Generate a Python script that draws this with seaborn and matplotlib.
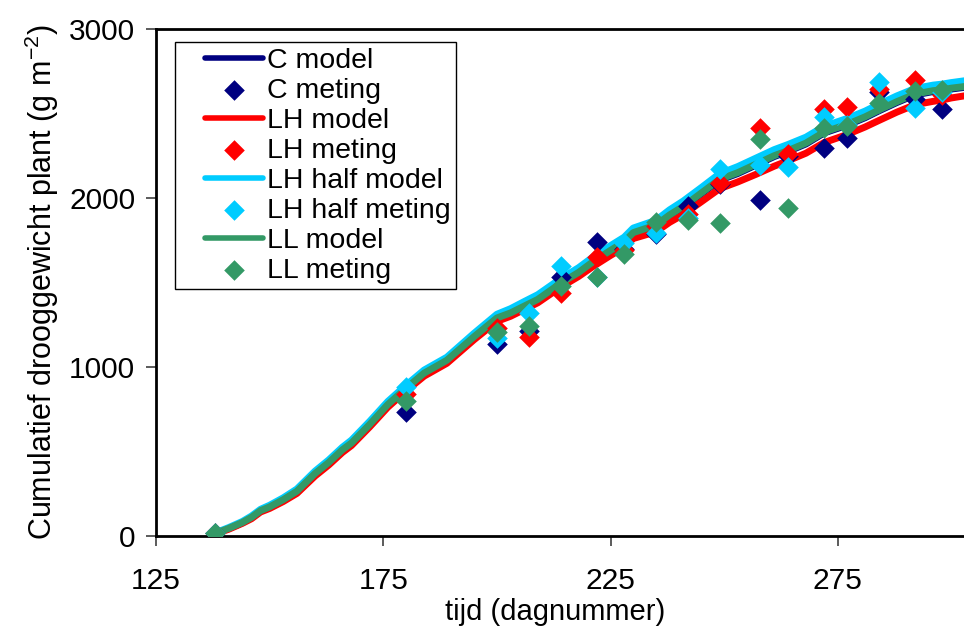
import matplotlib
matplotlib.use("Agg")
import matplotlib.pyplot as plt
from matplotlib.lines import Line2D
from matplotlib.collections import PathCollection
from matplotlib.legend_handler import HandlerLine2D, HandlerPathCollection
import seaborn as sns
import pandas as pd

sns.set_theme(style="white")
plt.rcParams["font.family"] = ["Liberation Sans", "DejaVu Sans"]
plt.rcParams["mathtext.fontset"] = "custom"
plt.rcParams["mathtext.rm"] = "Liberation Sans"
plt.rcParams["text.color"] = "black"
plt.rcParams["axes.labelcolor"] = "black"
plt.rcParams["xtick.color"] = "black"
plt.rcParams["ytick.color"] = "black"

# Simulated cumulative dry weight (g m-2) per treatment
model_days = [138, 141, 144, 146, 148, 150, 153, 156, 160, 163, 166, 168, 172, 176,
              180, 184, 189, 195, 200, 203, 206, 209, 214, 218, 221, 225, 228, 230,
              235, 238, 241, 245, 249, 253, 257, 261, 264, 268, 272, 277, 281, 284,
              288, 292, 296, 298, 300, 303]

c_model = [15, 44, 78, 108, 148, 170, 213, 263, 367, 432, 507, 547, 657, 775,
           870, 960, 1036, 1176, 1286, 1316, 1356, 1396, 1491, 1556, 1616, 1686, 1736, 1790,
           1836, 1895, 1945, 2025, 2105, 2145, 2195, 2245, 2275, 2320, 2385, 2430, 2475, 2515,
           2565, 2610, 2630, 2635, 2645, 2655]

lh_model = [12, 40, 75, 102, 142, 163, 204, 252, 355, 420, 494, 535, 645, 762,
            858, 946, 1022, 1162, 1270, 1300, 1340, 1380, 1472, 1536, 1592, 1660, 1708, 1760,
            1800, 1856, 1902, 1978, 2055, 2095, 2140, 2188, 2220, 2265, 2328, 2375, 2420, 2458,
            2508, 2552, 2572, 2580, 2592, 2605]

lh_half_model = [18, 50, 86, 118, 158, 182, 226, 278, 384, 450, 525, 567, 678, 796,
                 892, 982, 1058, 1200, 1312, 1345, 1387, 1428, 1522, 1588, 1648, 1718, 1768, 1822,
                 1868, 1930, 1982, 2062, 2144, 2186, 2236, 2286, 2316, 2360, 2424, 2470, 2514, 2554,
                 2604, 2648, 2668, 2674, 2683, 2694]

ll_model = [15, 45, 80, 110, 150, 172, 215, 265, 370, 435, 510, 550, 660, 778,
            874, 964, 1040, 1180, 1290, 1320, 1360, 1400, 1495, 1560, 1620, 1690, 1740, 1795,
            1840, 1900, 1950, 2030, 2110, 2150, 2200, 2250, 2280, 2325, 2390, 2435, 2480, 2520,
            2570, 2615, 2635, 2640, 2650, 2660]

# Measured cumulative dry weight per treatment
meas_days = [138, 180, 200, 207, 214, 222, 228, 235, 242, 249, 258, 264, 272, 277, 284, 292, 298]

c_meting = [15, 735, 1135, 1213, 1533, 1741, 1700, 1785, 1950, 2080, 1988, 2250, 2297, 2355, 2627, 2584, 2524]
lh_meting = [15, 840, 1228, 1178, 1437, 1653, 1692, 1835, 1905, 2090, 2413, 2263, 2524, 2536, 2643, 2701, 2607]
lh_half_meting = [15, 880, 1170, 1318, 1600, 1530, 1735, 1795, 1880, 2171, 2195, 2183, 2481, 2430, 2688, 2533, 2630]
ll_meting = [15, 799, 1205, 1243, 1479, 1534, 1668, 1860, 1870, 1851, 2348, 1943, 2413, 2424, 2562, 2632, 2637]

navy = "#000080"
red = "#FF0000"
cyan = "#00CCFF"
green = "#339966"

fig = plt.figure(figsize=(9.64, 6.28), dpi=100)
# The day axis runs on to 325; its right end falls outside the canvas
ax = fig.add_axes([156 / 964, 92 / 628, 909 / 964, 507 / 628])

series = [
    ("C", c_model, c_meting, navy),
    ("LH", lh_model, lh_meting, red),
    ("LH half", lh_half_model, lh_half_meting, cyan),
    ("LL", ll_model, ll_meting, green),
]

handles = []
labels = []
for name, model, meting, col in series:
    dfm = pd.DataFrame({"dag": model_days, "gewicht": model})
    sns.lineplot(data=dfm, x="dag", y="gewicht", ax=ax, color=col, linewidth=5,
                 zorder=2, legend=False)
    handles.append(ax.lines[-1])
    labels.append(f"{name} model")

for name, model, meting, col in series:
    dfs = pd.DataFrame({"dag": meas_days, "gewicht": meting})
    sns.scatterplot(data=dfs, x="dag", y="gewicht", ax=ax, color=col, marker="D",
                    s=110, linewidth=0, zorder=3, legend=False)
    handles.append(ax.collections[-1])
    labels.append(f"{name} meting")

# Legend entries alternate model line / measured points per treatment
order = [0, 4, 1, 5, 2, 6, 3, 7]
leg = ax.legend([handles[i] for i in order], [labels[i] for i in order],
                loc="upper left", bbox_to_anchor=(0.021, 0.974), fontsize=20.5,
                frameon=True, fancybox=False, shadow=False, framealpha=1,
                edgecolor="black", labelspacing=0.14, handlelength=2.9,
                handletextpad=0.12, borderpad=0.2, borderaxespad=0,
                handler_map={Line2D: HandlerLine2D(xpad=0.85),
                             PathCollection: HandlerPathCollection(xpad=0.85)})
leg.get_frame().set_linewidth(1.0)
for ln in leg.get_lines():
    ln.set_linewidth(4)

ax.set_xlim(125, 325)
ax.set_ylim(0, 3000)
ax.set_xticks([125, 175, 225, 275])
ax.set_yticks([0, 1000, 2000, 3000])
ax.set_xlabel("tijd (dagnummer)", fontsize=21)
ax.xaxis.set_label_coords((555 - 156) / 909, -0.122)
ax.set_ylabel(r"Cumulatief drooggewicht plant (g m$^{\mathregular{-2}}$)", fontsize=22, labelpad=6)
ax.tick_params(axis="both", labelsize=21.5, direction="out", length=7, width=1.2,
               color="#404040", bottom=True, left=True)
ax.tick_params(axis="x", pad=15)
ax.tick_params(axis="y", pad=8)

for side in ["left", "bottom", "top"]:
    ax.spines[side].set_visible(True)
    ax.spines[side].set_color("black")
    ax.spines[side].set_linewidth(2)
ax.spines["right"].set_visible(False)
ax.grid(False)
ax.set_facecolor("white")
fig.patch.set_facecolor("white")

fig.savefig("out.png", dpi=100)
